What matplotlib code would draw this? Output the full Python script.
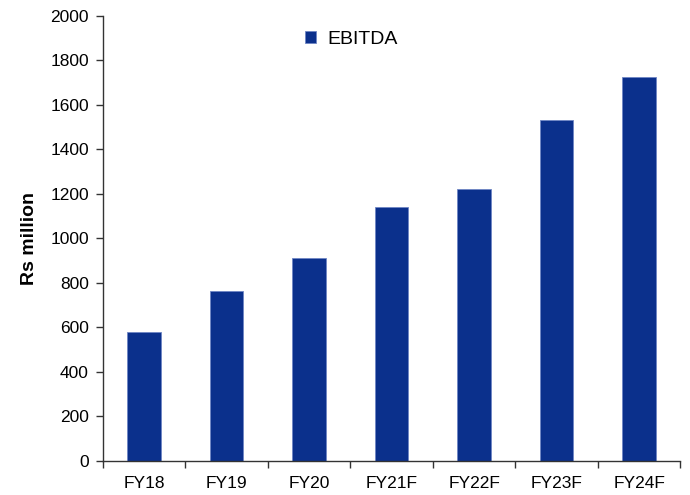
import matplotlib
matplotlib.use("Agg")
import matplotlib.pyplot as plt
import numpy as np

plt.rcParams['font.family'] = ['Liberation Sans', 'DejaVu Sans']

categories = ["FY18", "FY19", "FY20", "FY21F", "FY22F", "FY23F", "FY24F"]
ebitda = [578, 763, 912, 1143, 1221, 1531, 1724]
y_ticks = [0, 200, 400, 600, 800, 1000, 1200, 1400, 1600, 1800, 2000]

bar_color = "#0B308C"
axis_color = "#333333"

fig = plt.figure(figsize=(6.9, 4.95), dpi=100)
ax = fig.add_axes([0.149, 0.0687, 0.837, 0.899])

x = np.arange(len(categories))
ax.bar(x, ebitda, width=0.41, color=bar_color, edgecolor="#6F86C4", linewidth=0.6, label="EBITDA")

ax.set_xlim(-0.5, len(categories) - 0.5)
ax.set_ylim(0, 2000)
ax.set_yticks(y_ticks)
ax.set_yticklabels([str(v) for v in y_ticks], fontsize=12.5)

ax.set_xticks(x)
ax.set_xticklabels(categories, fontsize=12.5)
ax.set_xticks(np.arange(len(categories) + 1) - 0.5, minor=True)
ax.tick_params(axis='x', which='major', length=0, pad=11)
ax.tick_params(axis='x', which='minor', length=5, direction='out', color=axis_color, width=1)
ax.tick_params(axis='y', length=5, direction='out', color=axis_color, width=1, pad=5)

for side in ("top", "right"):
    ax.spines[side].set_visible(False)
for side in ("left", "bottom"):
    ax.spines[side].set_color(axis_color)
    ax.spines[side].set_linewidth(1)

ax.set_ylabel("Rs million", fontsize=14, fontweight="bold", labelpad=9)

ax.legend(loc="upper center", bbox_to_anchor=(0.43, 1.005), frameon=False, fontsize=14,
          handlelength=0.58, handleheight=0.58, handletextpad=0.55)

fig.savefig("out.png", dpi=100, facecolor="white")
